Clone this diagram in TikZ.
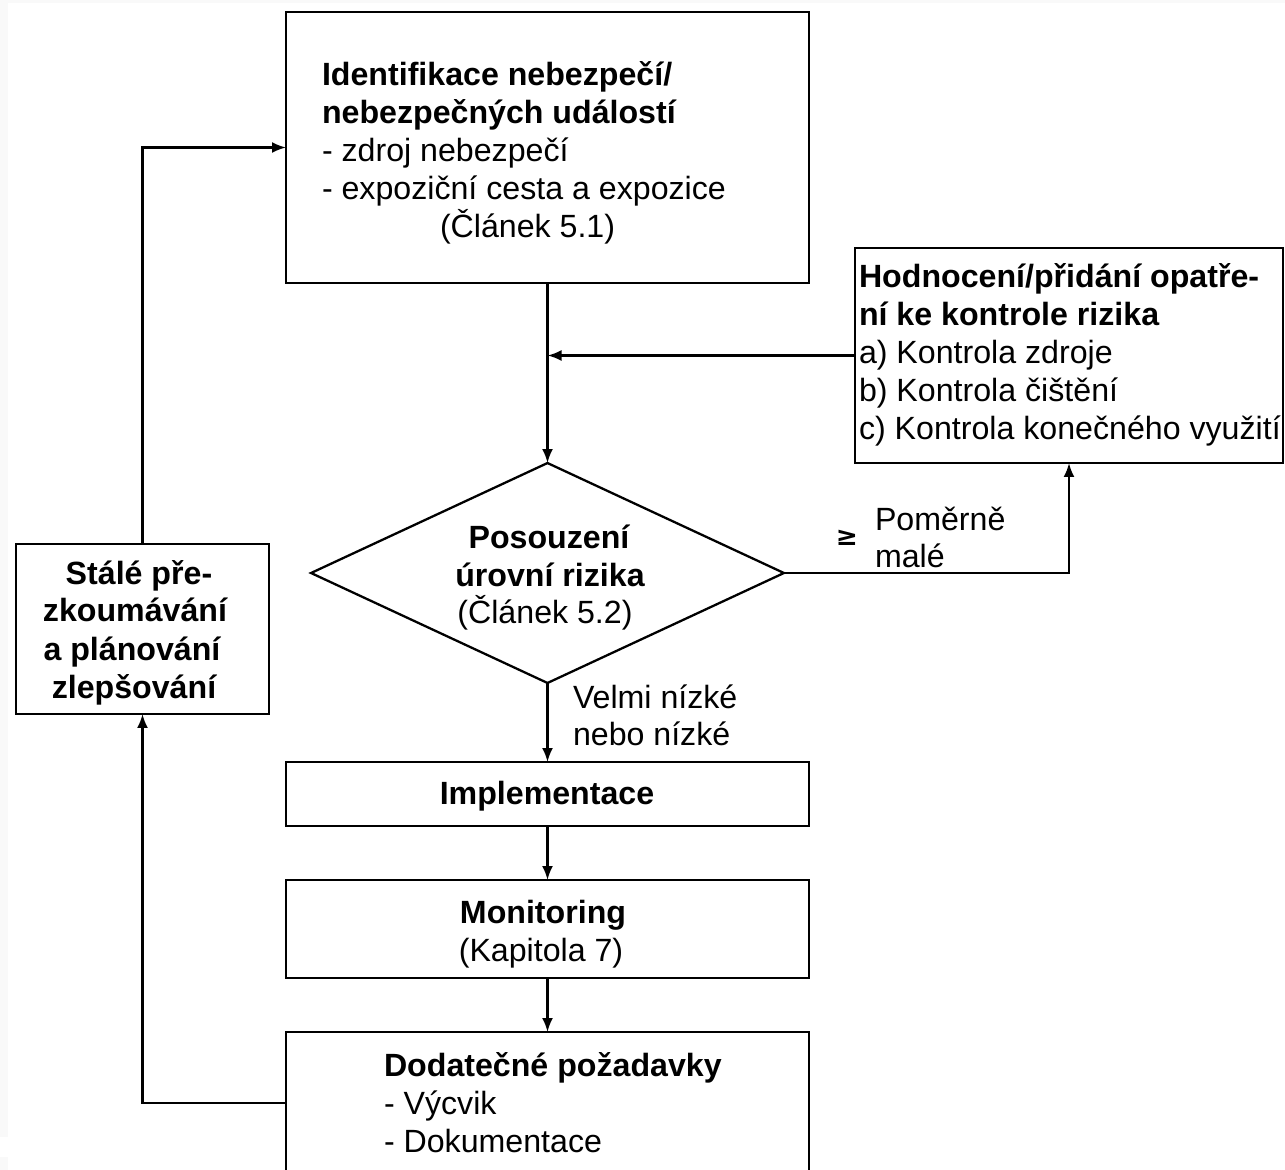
\documentclass[tikz,border=0pt]{standalone}
\usepackage{fontspec}
\setmainfont{Liberation Sans}
\newfontfamily\symfont{DejaVu Sans}
\usetikzlibrary{arrows.meta,shapes.geometric}
\begin{document}
\begin{tikzpicture}[x=0.02cm,y=-0.02cm,
  every node/.style={font=\fontsize{18.3}{21.5}\selectfont, inner sep=0pt, outer sep=0pt},
  txt/.style={anchor=base west},
  ctxt/.style={anchor=base},
  bf/.style={font=\fontsize{18.3}{21.5}\selectfont\bfseries},
  box/.style={draw, line width=1.3pt, rectangle},
  conn/.style={line width=1.3pt, -{Latex[length=0.28cm,width=0.22cm]}}]
\useasboundingbox (0,0) rectangle (1285,1170);
\clip (0,0) rectangle (1285,1170);
\fill[gray!5] (0,0) rectangle (1285,1170);
\fill[white] (8,3) rectangle (1285,1137);
\fill[white] (0,1137) rectangle (1285,1157);
\fill[white] (8,1157) rectangle (1285,1170);

% boxes
\node[box, minimum width=10.46cm, minimum height=5.42cm] (ident) at (547.5,147.5) {};
\node[box, minimum width=8.56cm, minimum height=4.30cm] (hod) at (1069,355.5) {};
\node[draw, line width=1.3pt, diamond, minimum width=9.46cm, minimum height=4.4cm] (dia) at (547.5,573) {};
\node[box, minimum width=10.46cm, minimum height=1.28cm] (impl) at (547.5,794) {};
\node[box, minimum width=10.46cm, minimum height=1.96cm] (mon) at (547.5,929) {};
\node[box, minimum width=10.46cm, minimum height=2.84cm] (dod) at (547.5,1103) {};
\node[box, minimum width=5.06cm, minimum height=3.4cm] (stale) at (142.5,629) {};

% texts: identification
\node[txt,bf] (i1) at (322,85) {Identifikace nebezpečí/};
\node[txt,bf] (i2) at (322,123) {nebezpečných událostí};
\node[txt] (i3) at (322,161) {- zdroj nebezpečí};
\node[txt] (i4) at (322,199) {- expoziční cesta a expozice};
\node[txt] (i5) at (440,237) {(Článek 5.1)};

% texts: hodnoceni
\node[txt,bf] (h1) at (859,287) {Hodnocení/přidání opatře-};
\node[txt,bf] (h2) at (859,325) {ní ke kontrole rizika};
\node[txt] (h3) at (859,363) {a) Kontrola zdroje};
\node[txt] (h4) at (859,401) {b) Kontrola čištění};
\node[txt] (h5) at (859,439) {c) Kontrola konečného využití};

% texts: diamond
\node[ctxt,bf] (d1) at (549,548) {Posouzení};
\node[ctxt,bf] (d2) at (550,586) {úrovní rizika};
\node[ctxt] (d3) at (545,623) {(Článek 5.2)};

% labels
\node[font=\fontsize{15}{18}\selectfont\symfont\bfseries] (ge) at (847,538) {≥};
\node[txt] (p1) at (875,530) {Poměrně};
\node[txt] (p2) at (875,567) {malé};
\node[txt] (v1) at (573,708) {Velmi nízké};
\node[txt] (v2) at (573,745) {nebo nízké};

% texts: lower boxes
\node[ctxt,bf] (im) at (547,804) {Implementace};
\node[ctxt,bf] (m1) at (543,923) {Monitoring};
\node[ctxt] (m2) at (541,961) {(Kapitola 7)};
\node[txt,bf] (o1) at (384,1076) {Dodatečné požadavky};
\node[txt] (o2) at (384,1114) {- Výcvik};
\node[txt] (o3) at (384,1152) {- Dokumentace};

% texts: stale
\node[ctxt,bf] (s1) at (139,584) {Stálé pře-};
\node[ctxt,bf] (s2) at (135,621) {zkoumávání};
\node[ctxt,bf] (s3) at (132,660) {a plánování};
\node[ctxt,bf] (s4) at (134,698) {zlepšování};

% connectors
\draw[conn] (ident.south) -- (dia.north);
\draw[conn] (hod.west) -- (ident.south |- hod.west);
\draw[conn] (dia.east) -| (hod.south);
\draw[conn] (dia.south) -- (impl.north);
\draw[conn] (impl.south) -- (mon.north);
\draw[conn] (mon.south) -- (dod.north);
\draw[conn] (dod.west) -| (stale.south);
\draw[conn] (stale.north) |- (ident.west);
\end{tikzpicture}
\end{document}
